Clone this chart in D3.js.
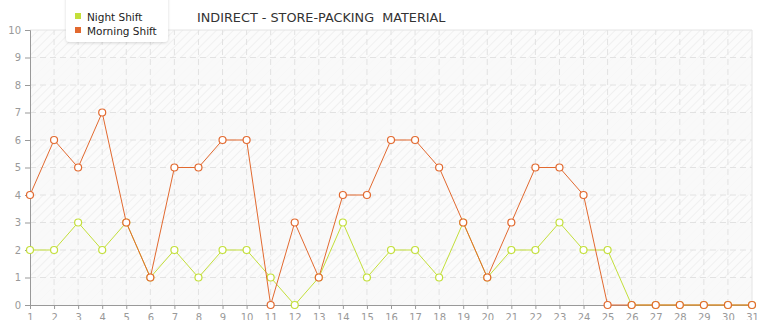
<!DOCTYPE html>
<html>
<head>
<meta charset="utf-8">
<script src="https://cdn.jsdelivr.net/npm/d3@7"></script>
<style>
  body { margin: 0; background: #fff; font-family: "DejaVu Sans", Verdana, sans-serif; }
  svg { display: block; }
</style>
</head>
<body>
<script>
// chart data
var days = d3.range(1, 32);
var nightShift   = [2,2,3,2,3,1,2,1,2,2,1,0,1,3,1,2,2,1,3,1,2,2,3,2,2,0,0,0,0,0,0];
var morningShift = [4,6,5,7,3,1,5,5,6,6,0,3,1,4,4,6,6,5,3,1,3,5,5,4,0,0,0,0,0,0,0];
var yTicks = d3.range(0, 11);
var title = "INDIRECT - STORE-PACKING  MATERIAL";

var series = [
  {name: "Night Shift", values: nightShift, color: "#c3df3a"},
  {name: "Morning Shift", values: morningShift, color: "#e2692f"}
];

var width = 765, height = 320;
var margin = {top: 30, right: 13, bottom: 15, left: 30};

var x = d3.scaleLinear().domain([1, 31]).range([margin.left, width - margin.right]);
var y = d3.scaleLinear().domain([0, 10]).range([height - margin.bottom, margin.top]);

var svg = d3.select("body").append("svg")
    .attr("width", width)
    .attr("height", height);

// hatch pattern for the plot background
var defs = svg.append("defs");
var pat = defs.append("pattern")
    .attr("id", "hatch")
    .attr("patternUnits", "userSpaceOnUse")
    .attr("width", 6).attr("height", 6)
    .attr("patternTransform", "rotate(45)");
pat.append("rect").attr("width", 6).attr("height", 6).attr("fill", "#fbfbfb");
pat.append("line").attr("x1", 0).attr("y1", 0).attr("x2", 0).attr("y2", 6)
    .attr("stroke", "#e9e9e9").attr("stroke-width", 1.2);

svg.append("rect")
    .attr("x", x(1)).attr("y", y(10))
    .attr("width", x(31) - x(1)).attr("height", y(0) - y(10))
    .attr("fill", "url(#hatch)");

// alternate plain bands
svg.append("g").selectAll("rect")
  .data(yTicks.slice(0, 10).filter(d => d % 2 == 0))
  .join("rect")
    .attr("x", x(1)).attr("width", x(31) - x(1))
    .attr("y", d => y(d + 1)).attr("height", d => y(d) - y(d + 1))
    .attr("fill", "#f9f9f9").attr("fill-opacity", 0.8);

// grid
svg.append("g")
    .attr("stroke", "#e2e2e2").attr("stroke-dasharray", "6,4")
  .selectAll("line").data(yTicks.slice(1, 10)).join("line")
    .attr("x1", x(1)).attr("x2", x(31))
    .attr("y1", d => y(d)).attr("y2", d => y(d));
svg.append("g")
    .attr("stroke", "#e2e2e2").attr("stroke-dasharray", "6,4")
  .selectAll("line").data(days.slice(1, 30)).join("line")
    .attr("x1", d => x(d)).attr("x2", d => x(d))
    .attr("y1", y(0)).attr("y2", y(10));

// plot frame (top and right)
svg.append("path")
    .attr("d", `M${x(1)},${y(10)}H${x(31)}V${y(0)}`)
    .attr("fill", "none").attr("stroke", "#e4e4e4").attr("stroke-width", 1);

// axes
var yAxis = svg.append("g")
    .attr("transform", `translate(${x(1)},0)`)
    .call(d3.axisLeft(y).tickValues(yTicks).tickSize(5).tickPadding(4).tickFormat(d3.format("d")));
var xAxis = svg.append("g")
    .attr("transform", `translate(0,${y(0)})`)
    .call(d3.axisBottom(x).tickValues(days).tickSize(4).tickPadding(5).tickFormat(d3.format("d")));
[yAxis, xAxis].forEach(function(ax) {
  ax.select(".domain").attr("stroke", "#999");
  ax.selectAll(".tick line").attr("stroke", "#999");
  ax.selectAll("text").attr("fill", "#999").style("font-size", "10px")
    .style("font-family", "'DejaVu Sans', Verdana, sans-serif");
});

// lines and markers (morning drawn last so it sits on top)
var line = d3.line().x((d, i) => x(days[i])).y(d => y(d));
var sg = svg.append("g").selectAll("g").data(series).join("g");
sg.append("path")
    .attr("d", d => line(d.values))
    .attr("fill", "none")
    .attr("stroke", d => d.color)
    .attr("stroke-width", 1);
sg.each(function(s) {
  d3.select(this).selectAll("circle")
    .data(s.values).join("circle")
      .attr("cx", (d, i) => x(days[i]))
      .attr("cy", d => y(d))
      .attr("r", 3.5)
      .attr("fill", "#fff")
      .attr("stroke", s.color)
      .attr("stroke-width", 1.2);
});

// legend
var legend = svg.append("g");
defs.append("filter").attr("id", "shadow")
  .append("feDropShadow").attr("dx", 0).attr("dy", 1).attr("stdDeviation", 1.5)
  .attr("flood-color", "#000").attr("flood-opacity", 0.15);
legend.append("rect")
    .attr("x", 66).attr("y", -6).attr("width", 102).attr("height", 48).attr("rx", 4)
    .attr("fill", "#fff").attr("filter", "url(#shadow)");
var li = legend.selectAll("g.item").data(series).join("g")
    .attr("class", "item")
    .attr("transform", (d, i) => `translate(75,${18 + i * 14})`);
li.append("rect").attr("x", 0).attr("y", -5).attr("width", 6).attr("height", 6)
    .attr("fill", d => d.color);
li.append("text").attr("x", 12).attr("y", 0).attr("dy", "0.32em")
    .attr("fill", "#222").style("font-size", "10.5px")
    .text(d => d.name);

// title
svg.append("text")
    .attr("x", 197).attr("y", 22)
    .attr("fill", "#333")
    .style("font-size", "12.8px")
    .style("white-space", "pre")
    .text(title);
</script>
</body>
</html>
